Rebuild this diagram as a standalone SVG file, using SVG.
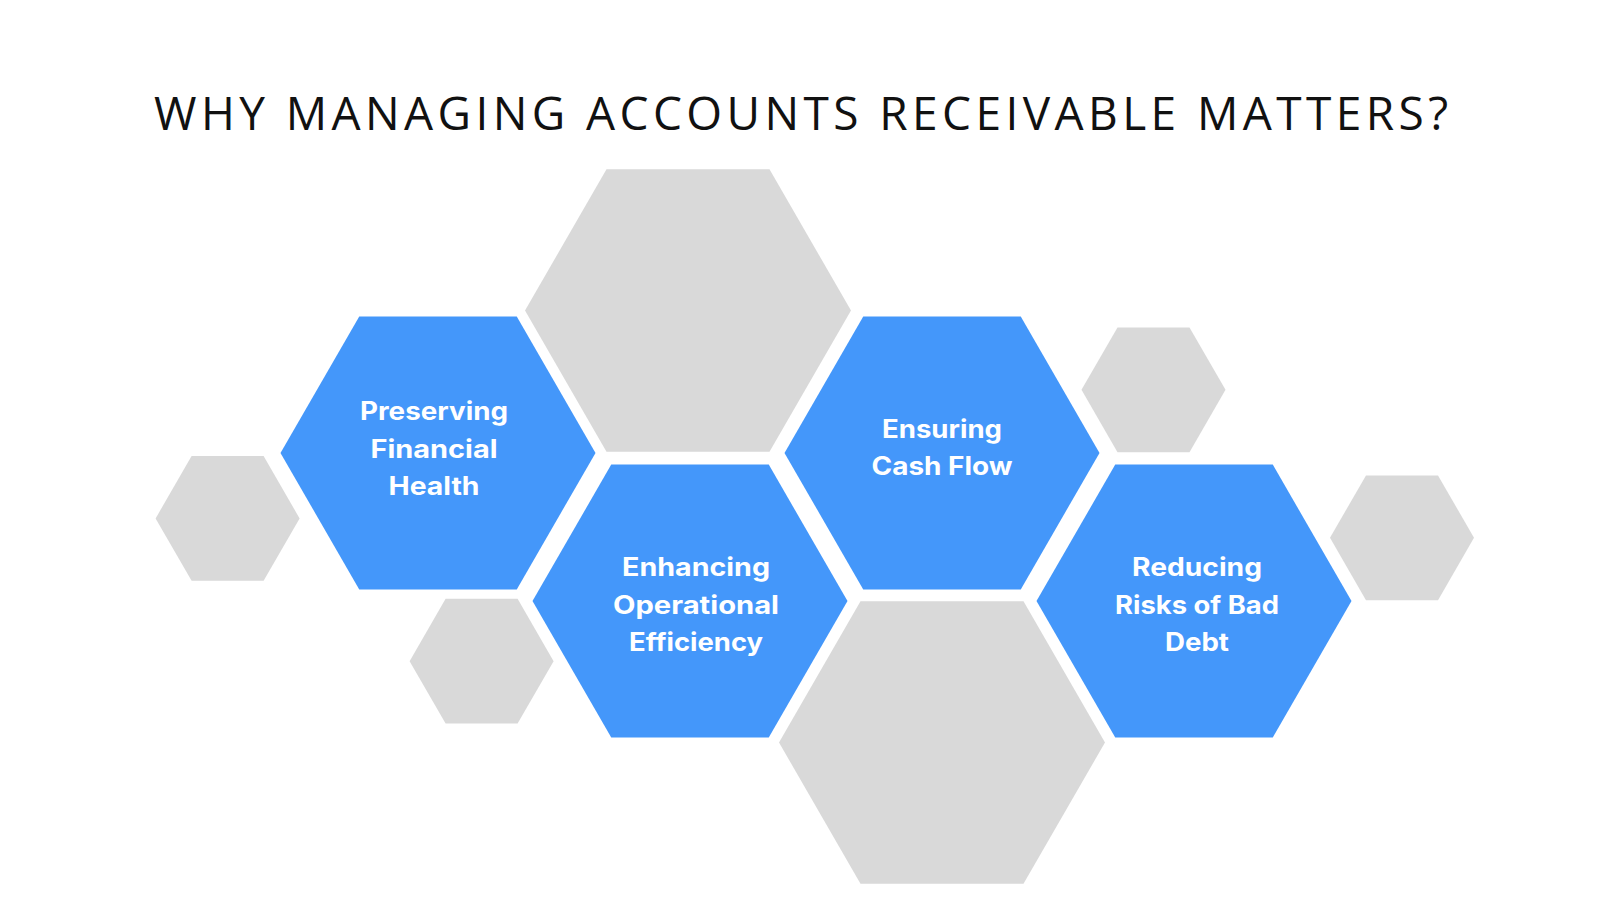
<svg xmlns="http://www.w3.org/2000/svg" xmlns:xlink="http://www.w3.org/1999/xlink" width="1600" height="900" viewBox="0 0 1600 900">
  <style>
    .blue { fill: #4497FA; }
    .gray { fill: #D9D9D9; }
    .title { font-family: "Open Sans", "Liberation Sans", sans-serif; font-size: 46px; font-weight: 400; fill: #111111; }
    .label { font-family: Inter, "Liberation Sans", sans-serif; font-size: 25px; font-weight: 700; fill: #FFFFFF; text-anchor: middle; }
  </style>
  <defs>
    <polygon id="hexBlue" points="-157.5,0 -78.75,-136.4 78.75,-136.4 157.5,0 78.75,136.4 -78.75,136.4"/>
    <polygon id="hexBig" points="-163,0 -81.5,-141.2 81.5,-141.2 163,0 81.5,141.2 -81.5,141.2"/>
    <polygon id="hexSmall" points="-72,0 -36,-62.4 36,-62.4 72,0 36,62.4 -36,62.4"/>
  </defs>
  <rect width="1600" height="900" fill="#FFFFFF"/>
  <text class="title" x="154" y="130" textLength="1294" lengthAdjust="spacing">WHY MANAGING ACCOUNTS RECEIVABLE MATTERS?</text>

  <g id="deco-top-big"><use xlink:href="#hexBig" class="gray" transform="translate(688,310.5)"/></g>
  <g id="deco-bottom-big"><use xlink:href="#hexBig" class="gray" transform="translate(942,742.5)"/></g>
  <g id="deco-left-small"><use xlink:href="#hexSmall" class="gray" transform="translate(227.6,518.4)"/></g>
  <g id="deco-lower-small"><use xlink:href="#hexSmall" class="gray" transform="translate(481.6,661.2)"/></g>
  <g id="deco-upper-right-small"><use xlink:href="#hexSmall" class="gray" transform="translate(1153.5,389.8)"/></g>
  <g id="deco-far-right-small"><use xlink:href="#hexSmall" class="gray" transform="translate(1402,537.8)"/></g>

  <g id="node-preserving">
    <use xlink:href="#hexBlue" class="blue" transform="translate(438,453)"/>
    <text class="label" x="434" y="420" textLength="148" lengthAdjust="spacingAndGlyphs">Preserving</text>
    <text class="label" x="434" y="458" textLength="127" lengthAdjust="spacingAndGlyphs">Financial</text>
    <text class="label" x="434" y="495" textLength="91" lengthAdjust="spacingAndGlyphs">Health</text>
  </g>
  <g id="node-enhancing">
    <use xlink:href="#hexBlue" class="blue" transform="translate(690,601)"/>
    <text class="label" x="696" y="576" textLength="148" lengthAdjust="spacingAndGlyphs">Enhancing</text>
    <text class="label" x="696" y="614" textLength="166" lengthAdjust="spacingAndGlyphs">Operational</text>
    <text class="label" x="696" y="651" textLength="134" lengthAdjust="spacingAndGlyphs">Efficiency</text>
  </g>
  <g id="node-ensuring">
    <use xlink:href="#hexBlue" class="blue" transform="translate(942,453)"/>
    <text class="label" x="942" y="437.5" textLength="120" lengthAdjust="spacingAndGlyphs">Ensuring</text>
    <text class="label" x="942" y="475" textLength="141" lengthAdjust="spacingAndGlyphs">Cash Flow</text>
  </g>
  <g id="node-reducing">
    <use xlink:href="#hexBlue" class="blue" transform="translate(1194,601)"/>
    <text class="label" x="1197" y="576" textLength="130" lengthAdjust="spacingAndGlyphs">Reducing</text>
    <text class="label" x="1197" y="614" textLength="164" lengthAdjust="spacingAndGlyphs">Risks of Bad</text>
    <text class="label" x="1197" y="651" textLength="64" lengthAdjust="spacingAndGlyphs">Debt</text>
  </g>
  <g id="connectors"></g>
</svg>
